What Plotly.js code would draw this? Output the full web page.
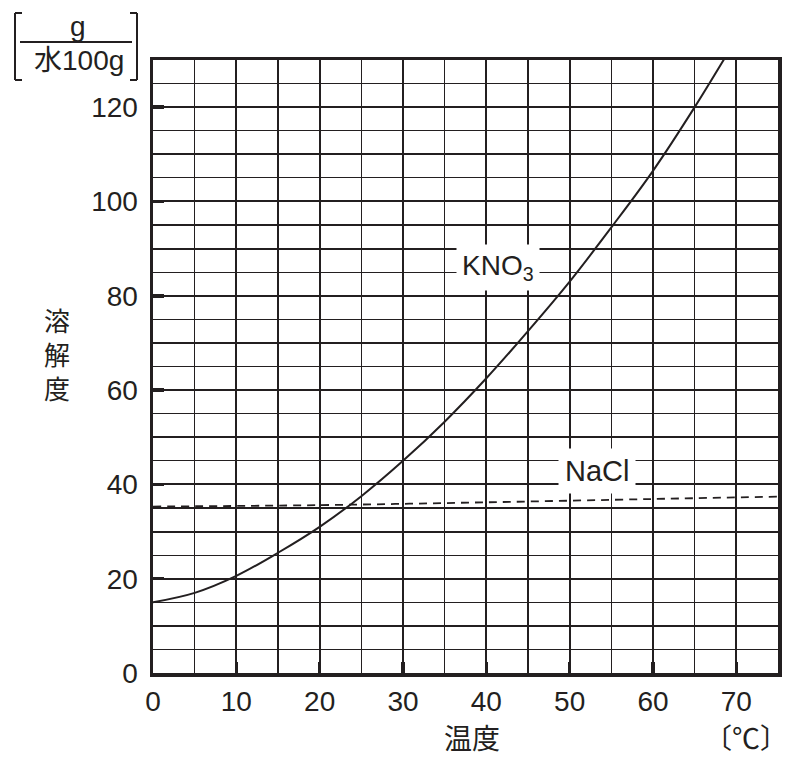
<!DOCTYPE html>
<html>
<head>
<meta charset="utf-8">
<script src="https://cdn.plot.ly/plotly-3.0.1.min.js"></script>
<style>html,body{margin:0;padding:0;background:#fff;}</style>
</head>
<body>
<div id="chart" style="width:790px;height:758px;"></div>
<script>
// Data
const temps = [0, 5, 10, 15, 20, 25, 30, 35, 40, 45, 50, 55, 60, 65, 70];
const kno3 = [15, 17, 20.6, 25.5, 31, 37.5, 45, 53.3, 62.5, 72.5, 83, 94.5, 106.5, 120, 134.5];
const naclTemps = [0, 20, 40, 60, 75];
const nacl = [35.3, 35.6, 36.2, 36.9, 37.4];
const yLabelVals = [0, 20, 40, 60, 80, 100, 120];
const yOddTens = [10, 30, 50, 70, 90, 110];

const ink = '#231f20';
const fontFam = 'Liberation Sans, Arial, Noto Sans CJK JP, sans-serif';
const cjk = 'Noto Sans CJK JP, sans-serif';

const traces = [
  {x: temps, y: kno3, yaxis: 'y2', mode: 'lines', line: {color: ink, width: 2, shape: 'spline'}, hoverinfo: 'skip'},
  {x: naclTemps, y: nacl, yaxis: 'y2', mode: 'lines', line: {color: ink, width: 1.8, dash: '8px,6px', shape: 'spline'}, hoverinfo: 'skip'},
  {x: [0], y: [0], mode: 'markers', marker: {opacity: 0}, hoverinfo: 'skip'}
];

// pixel helpers for paper coords (plot area 153..778 x, 60..673 y)
const px = x => (x - 153) / 625;
const py = y => (673 - y) / 613;

const lineStyle = {color: ink, width: 2};
const shapes = [
  // fraction line
  {type: 'line', xref: 'paper', yref: 'paper', x0: px(20), x1: px(132), y0: py(42), y1: py(42), line: lineStyle},
  // left bracket
  {type: 'line', xref: 'paper', yref: 'paper', x0: px(15), x1: px(15), y0: py(13), y1: py(80), line: lineStyle},
  {type: 'line', xref: 'paper', yref: 'paper', x0: px(15), x1: px(22), y0: py(13), y1: py(13), line: lineStyle},
  {type: 'line', xref: 'paper', yref: 'paper', x0: px(15), x1: px(22), y0: py(80), y1: py(80), line: lineStyle},
  // right bracket
  {type: 'line', xref: 'paper', yref: 'paper', x0: px(137), x1: px(137), y0: py(13), y1: py(80), line: lineStyle},
  {type: 'line', xref: 'paper', yref: 'paper', x0: px(130), x1: px(137), y0: py(13), y1: py(13), line: lineStyle},
  {type: 'line', xref: 'paper', yref: 'paper', x0: px(130), x1: px(137), y0: py(80), y1: py(80), line: lineStyle}
];

function ann(x, y, text, size, fam, xref, yref) {
  return {xref: xref || 'paper', yref: yref || 'paper', x: x, y: y, text: text, showarrow: false,
          xanchor: 'center', yanchor: 'middle', font: {family: fam, size: size, color: ink}};
}

const annotations = [
  Object.assign(ann(41.4, 85.9, 'KNO<sub>3</sub>', 28, fontFam, 'x', 'y'), {bgcolor: '#ffffff', borderpad: 5}),
  Object.assign(ann(53.3, 42.8, 'NaCl', 29, fontFam, 'x', 'y'), {bgcolor: '#ffffff', borderpad: 6}),
  ann(px(78), py(27), 'g', 28, fontFam),
  ann(px(79), py(60), '水100g', 28, fontFam),
  ann(px(57), py(354), '溶<br>解<br>度', 26, cjk),
  ann(px(472), py(737), '温度', 28, cjk),
  Object.assign(ann(px(789), py(737), '〔℃〕', 28, cjk), {xanchor: 'right', borderpad: 0})
];

const layout = {
  width: 790, height: 758,
  margin: {l: 153, r: 12, t: 60, b: 85},
  paper_bgcolor: '#ffffff', plot_bgcolor: '#ffffff',
  showlegend: false,
  xaxis: {
    range: [0, 75], dtick: 10, tick0: 0,
    ticks: 'inside', ticklen: 11, tickwidth: 3.5, tickcolor: ink,
    showgrid: true, gridcolor: ink, gridwidth: 2,
    minor: {dtick: 5, showgrid: true, gridcolor: ink, gridwidth: 1.2},
    showline: true, linecolor: ink, linewidth: 3.5, mirror: true,
    zeroline: false,
    tickfont: {family: fontFam, size: 28, color: ink},
    ticklabelstandoff: 1,
    fixedrange: true
  },
  yaxis: {
    range: [0, 130], tickvals: yLabelVals,
    ticks: 'inside', ticklen: 11, tickwidth: 3.5, tickcolor: ink,
    showgrid: true, gridcolor: ink, gridwidth: 2,
    minor: {dtick: 5, showgrid: true, gridcolor: ink, gridwidth: 1.2},
    showline: true, linecolor: ink, linewidth: 3.5, mirror: true,
    zeroline: false,
    tickfont: {family: fontFam, size: 28, color: ink},
    ticklabelstandoff: 6,
    fixedrange: true
  },
  yaxis2: {
    range: [0, 130], overlaying: 'y', side: 'left', tickvals: yOddTens,
    ticks: '', showticklabels: false,
    showgrid: true, gridcolor: ink, gridwidth: 2,
    zeroline: false, showline: false,
    fixedrange: true
  },
  shapes: shapes,
  annotations: annotations
};

Plotly.newPlot('chart', traces, layout, {displayModeBar: false, staticPlot: true});
</script>
</body>
</html>
